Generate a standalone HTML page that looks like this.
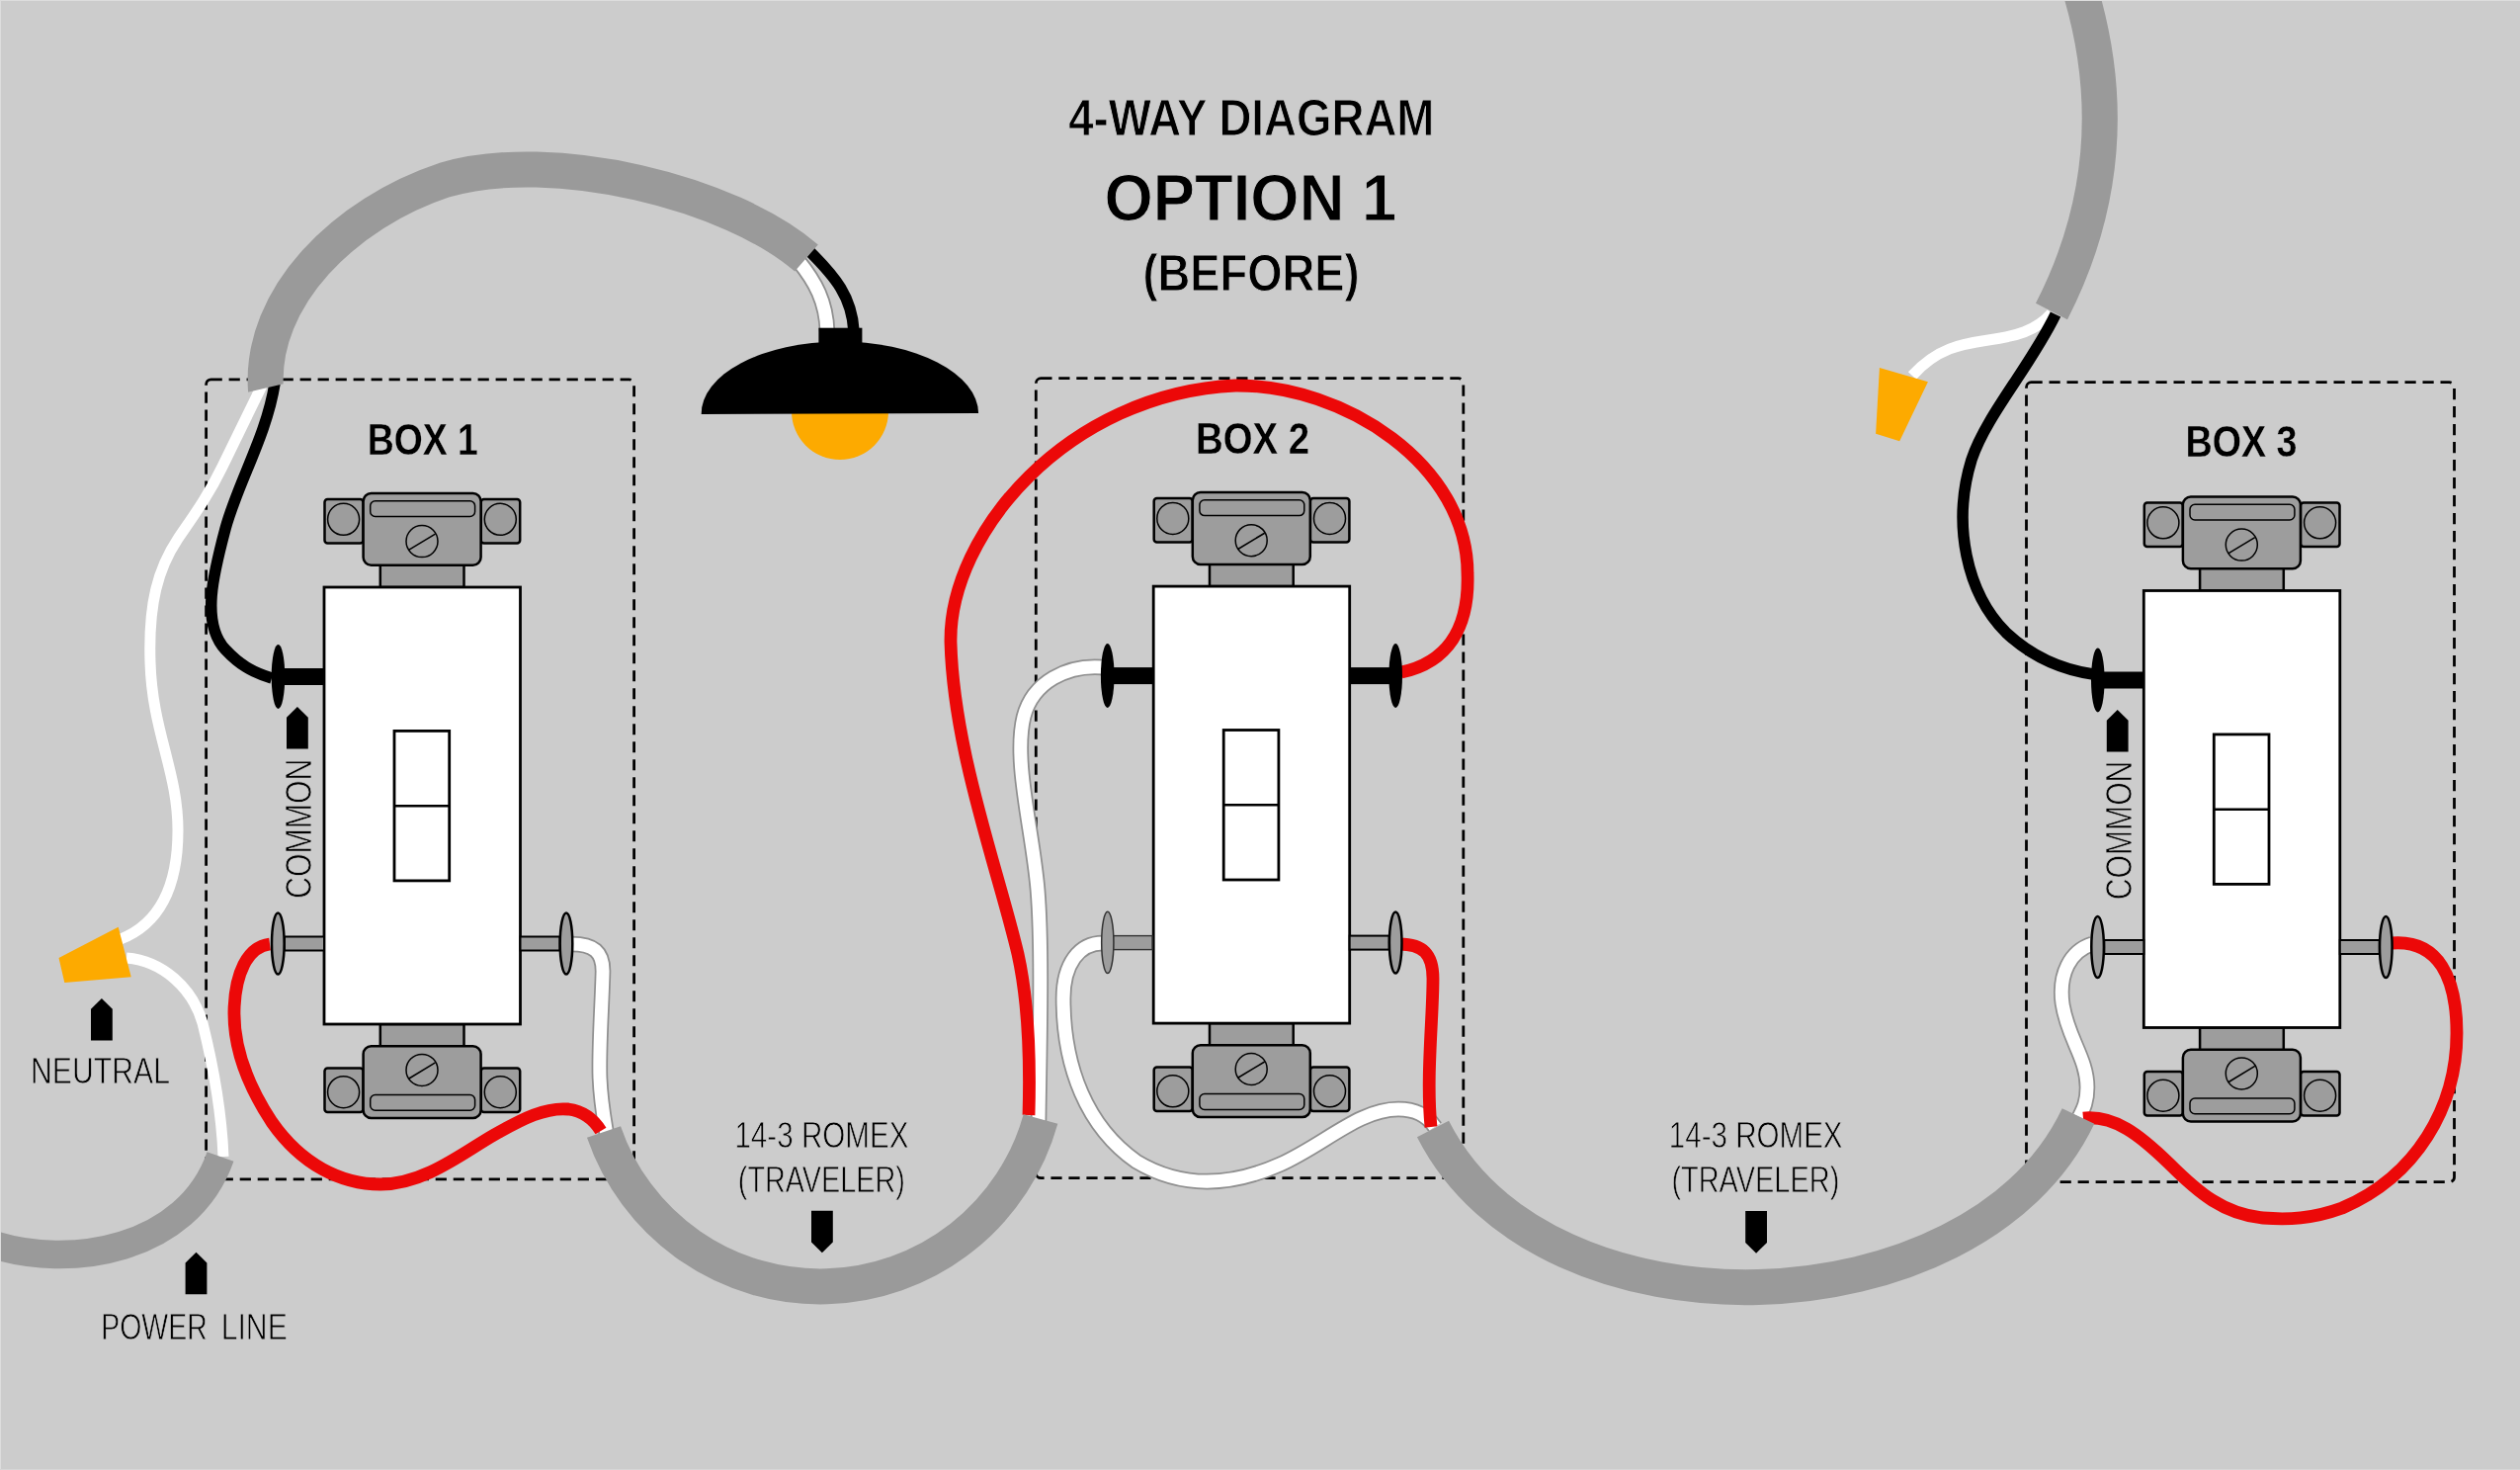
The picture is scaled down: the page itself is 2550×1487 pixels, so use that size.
<!DOCTYPE html>
<html><head><meta charset="utf-8">
<style>
html,body{margin:0;padding:0;background:#cccccc;width:2550px;height:1487px;overflow:hidden}
svg{display:block;will-change:transform}
text{font-family:"Liberation Sans",sans-serif}
</style></head>
<body>
<svg width="2550" height="1487" viewBox="0 0 2550 1487">
<defs>
  <clipPath id="cut1"><polygon points="0,0 1000,0 1000,400 320,380.5 230,401.7 0,401.7"/></clipPath>
  <g id="head">
    <rect x="0.5" y="-89" width="39" height="44.5" rx="3" fill="#9d9d9d" stroke="#000" stroke-width="2.5"/>
    <rect x="158.7" y="-89" width="39.5" height="44.5" rx="3" fill="#9d9d9d" stroke="#000" stroke-width="2.5"/>
    <rect x="56.8" y="-24" width="84.7" height="24" fill="#9d9d9d" stroke="#000" stroke-width="2.5"/>
    <rect x="39.6" y="-95" width="119" height="72.8" rx="8" fill="#9d9d9d" stroke="#000" stroke-width="2.5"/>
    <rect x="46.7" y="-87.3" width="105.9" height="15.8" rx="5" fill="#9d9d9d" stroke="#000" stroke-width="1.5"/>
    <circle cx="99" cy="-46.4" r="16" fill="#9d9d9d" stroke="#000" stroke-width="1.5"/>
        <circle cx="19.6" cy="-68.7" r="16" fill="#9d9d9d" stroke="#000" stroke-width="1.5"/>
    <circle cx="178.3" cy="-68.7" r="16" fill="#9d9d9d" stroke="#000" stroke-width="1.5"/>
  </g>
  <g id="sw">
    <use href="#head"/>
    <use href="#head" transform="translate(0,442) scale(1,-1)"/>
    <line x1="85.5" y1="-37.6" x2="112.5" y2="-53.9" stroke="#000" stroke-width="1.6"/>
    <line x1="85.5" y1="497.2" x2="112.5" y2="480.9" stroke="#000" stroke-width="1.6"/>
    <rect x="0" y="0" width="198.5" height="442" fill="#fff" stroke="#000" stroke-width="2.8"/>
    <rect x="71" y="145.4" width="55.7" height="151.5" fill="#fff" stroke="#000" stroke-width="2.8"/>
    <line x1="71" y1="221.2" x2="126.7" y2="221.2" stroke="#000" stroke-width="2.6"/>
  </g>
  <g id="tbL">
    <rect x="-40" y="353.5" width="40" height="14" fill="#9d9d9d" stroke="#000" stroke-width="2"/>
    <ellipse cx="-46.7" cy="360.5" rx="6.3" ry="31" fill="#9d9d9d" stroke="#000" stroke-width="2.5"/>
  </g>
  <g id="tbR">
    <rect x="198.5" y="353.5" width="40" height="14" fill="#9d9d9d" stroke="#000" stroke-width="2"/>
    <ellipse cx="245" cy="360.5" rx="6.3" ry="31" fill="#9d9d9d" stroke="#000" stroke-width="2.5"/>
  </g>
  <g id="termL">
    <rect x="-42" y="82" width="42" height="17" fill="#000"/>
    <ellipse cx="-46.5" cy="90.4" rx="6.8" ry="32.5" fill="#000"/>
  </g>
  <g id="termR">
    <rect x="198.5" y="82" width="42" height="17" fill="#000"/>
    <ellipse cx="245" cy="90.4" rx="6.8" ry="32.5" fill="#000"/>
  </g>
  <path id="arrowUp" d="M0,0 L10.9,10.8 L10.9,42.6 L-10.9,42.6 L-10.9,10.8 Z" fill="#000"/>
</defs>

<rect x="0" y="0" width="2550" height="1487" fill="#cccccc"/>

<!-- dashed boxes -->
<g fill="none" stroke="#000" stroke-width="2.8" stroke-dasharray="11.2 6.8">
  <rect x="208.6" y="383.8" width="433" height="809" rx="5"/>
  <rect x="1048.3" y="382.7" width="432.5" height="809" rx="5"/>
  <rect x="2050.5" y="386.7" width="433" height="809" rx="5"/>
</g>

<!-- title -->
<g fill="#000" font-weight="bold" stroke="#cccccc" stroke-width="1">
  <text x="1081.2" y="137" font-size="51.6" textLength="370.2" lengthAdjust="spacingAndGlyphs">4-WAY DIAGRAM</text>
  <text x="1117.6" y="223.4" font-size="67" textLength="295.6" lengthAdjust="spacingAndGlyphs">OPTION 1</text>
  <text x="1156.4" y="293.8" font-size="52.3" textLength="219.3" lengthAdjust="spacingAndGlyphs">(BEFORE)</text>
  <text x="371.8" y="460" font-size="43.6" stroke-width="0.3" textLength="112.1" lengthAdjust="spacingAndGlyphs">BOX 1</text>
  <text x="1210" y="459" font-size="43.6" stroke-width="0.3" textLength="115" lengthAdjust="spacingAndGlyphs">BOX 2</text>
  <text x="2211.6" y="462.2" font-size="43.6" stroke-width="0.3" textLength="112.9" lengthAdjust="spacingAndGlyphs">BOX 3</text>
</g>

<!-- labels -->
<g fill="#000" font-size="36" stroke="#cccccc" stroke-width="0.8">
  <text x="743.4" y="1160.8" textLength="176.1" lengthAdjust="spacingAndGlyphs">14-3 ROMEX</text>
  <text x="746.8" y="1206.2" textLength="169" lengthAdjust="spacingAndGlyphs">(TRAVELER)</text>
  <text x="1688.8" y="1160.8" textLength="175.8" lengthAdjust="spacingAndGlyphs">14-3 ROMEX</text>
  <text x="1691.4" y="1206" textLength="169.9" lengthAdjust="spacingAndGlyphs">(TRAVELER)</text>
  <text x="31" y="1095.6" textLength="141" lengthAdjust="spacingAndGlyphs">NEUTRAL</text>
  <text x="102.3" y="1355" textLength="107.4" lengthAdjust="spacingAndGlyphs">POWER</text>
  <text x="223.7" y="1355" textLength="67.1" lengthAdjust="spacingAndGlyphs">LINE</text>
  <text transform="translate(314.6,909) rotate(-90)" textLength="141.5" lengthAdjust="spacingAndGlyphs">COMMON</text>
  <text transform="translate(2156.8,910.2) rotate(-90)" textLength="140.5" lengthAdjust="spacingAndGlyphs">COMMON</text>
</g>

<!-- arrows -->
<use href="#arrowUp" transform="translate(300.9,714.9)"/>
<use href="#arrowUp" transform="translate(2142.7,718)"/>
<use href="#arrowUp" transform="translate(102.9,1009.9)"/>
<use href="#arrowUp" transform="translate(198.5,1266.7)"/>
<use href="#arrowUp" transform="translate(831.9,1267.3) scale(1,-1)"/>
<use href="#arrowUp" transform="translate(1777.1,1267.7) scale(1,-1)"/>


<!-- wires -->
<g fill="none" stroke-linecap="butt" stroke-linejoin="round">
  <!-- outlined white wires: gray under, white over -->
  <g stroke="#8f8f8f" stroke-width="16.5">
    <path id="w_lamp" d="M808,264 C 825,285 836,305 837,335"/>
    <path id="w_b1r" d="M578,955 C 600,955 611,962 610,985 C 609,1020 606,1060 607,1090 C 608,1115 611,1130 614,1148"/>
    <path id="w_b2a" d="M1116,675 C 1080,672 1045,690 1036,725 C 1025,770 1045,840 1050,900 C 1055,960 1052,1060 1051,1135"/>
    <path id="w_b2b" d="M1116,954 C 1092,954 1076,975 1076,1010 C 1076,1080 1100,1140 1150,1175 C 1200,1205 1250,1198 1295,1178 C 1340,1158 1375,1122 1415,1122 C 1432,1122 1444,1128 1452,1140"/>
    <path id="w_b3b" d="M2117,955 C 2095,962 2083,985 2087,1015 C 2092,1050 2112,1070 2112,1100 C 2112,1115 2108,1122 2104,1130"/>
  </g>
  <g stroke="#fff" stroke-width="11">
    <g stroke-width="13"><use href="#w_lamp"/><use href="#w_b1r"/><use href="#w_b2a"/><use href="#w_b2b"/><use href="#w_b3b"/></g>
    <path d="M265,390 L 225,472 C 210,503 195,523 180,545 C 160,575 150,610 152,670 C 154,740 180,780 180,840 C 180,900 160,935 122,950"/>
    <path d="M128,969 C 165,972 195,1000 205,1035 C 215,1075 224,1120 226,1170"/>
    <path d="M2076,317 C 2060,335 2040,340 2012,344 C 1985,348 1960,352 1935,380"/>
  </g>
  <g stroke="#000" stroke-width="11.5">
    <path d="M820,255 C 845,280 862,300 864,335"/>
    <path d="M278,388 C 270,440 240,490 228,535 C 216,580 203,630 228,657 C 242,672 255,680 275,686"/>
    <path d="M2080,318 C 2055,370 2010,420 1995,465 C 1975,530 1990,600 2030,640 C 2060,668 2090,678 2118,682"/>
  </g>
  <g stroke="#ec0808" stroke-width="12.8">
    <path d="M273,955 C 250,958 238,985 237,1022 C 236,1062 252,1100 275,1135 C 305,1178 345,1198 385,1198 C 430,1198 470,1165 500,1148 C 530,1131 552,1120 575,1122 C 590,1124 600,1131 608,1144"/>
    <path d="M1041,1128 C 1043,1060 1040,1010 1030,965 C 1010,880 965,760 962,650 C 960,540 1080,398 1250,390 C 1360,389 1485,470 1485,580 C 1487,635 1465,670 1418,680"/>
    <path d="M1416,955 C 1440,955 1450,965 1450,990 C 1450,1030 1443,1090 1448,1140"/>
    <path d="M2420,954 C 2468,950 2486,990 2486,1045 C 2486,1120 2445,1190 2370,1222 C 2340,1233 2315,1234 2290,1232 C 2250,1228 2225,1207 2195,1177 C 2165,1148 2140,1128 2108,1131"/>
  </g>
</g>
<!-- romex -->
<g fill="none" stroke="#9a9a9a" stroke-linecap="butt">
  <path stroke-width="36" clip-path="url(#cut1)" d="M270.2,412 L 269,395 C 262,300 350,215 450,182 C 560,150 740,195 816,261"/>
  <path stroke-width="36" d="M611,1145 A231.5,231.5 0 0 0 1053,1132"/>
  <path stroke-width="36" d="M1450,1142 C 1563,1365 1998,1350 2103,1129"/>
  <path stroke-width="36" d="M2105,-10 C 2135,90 2135,200 2076,315"/>
  <path stroke-width="28.5" d="M-10,1258 C 70,1285 190,1265 223,1170"/>
</g>
<!-- wire nuts -->
<polygon points="59.5,969.1 119.7,937.8 132.7,988.2 65.3,994" fill="#fdaa00"/>
<polygon points="1901.9,371.9 1950.9,386.2 1922.2,446.3 1898.1,438.7" fill="#fdaa00"/>

<!-- lamp -->
<g>
  <circle cx="850" cy="416" r="49" fill="#fdaa00"/>
  <path d="M709.7,419 A140.2,73 0 0 1 990.1,418 Z" fill="#000"/>
  <rect x="828.4" y="331.7" width="44" height="20" fill="#000"/>
</g>

<!-- switches -->
<use href="#sw" transform="translate(328,594)"/>
<use href="#sw" transform="translate(1167.2,593.1)"/>
<use href="#sw" transform="translate(2169.3,597.5)"/>
<use href="#termL" transform="translate(328,594)"/>
<use href="#termL" transform="translate(1167.2,593.1)"/>
<use href="#termR" transform="translate(1167.2,593.1)"/>
<use href="#termL" transform="translate(2169.3,597.5)"/>
<!-- box2 bottom-left terminal with thin outline -->
<use href="#tbL" transform="translate(328,594)"/>
<use href="#tbR" transform="translate(328,594)"/>
<use href="#tbR" transform="translate(1167.2,593.1)"/>
<use href="#tbL" transform="translate(2169.3,597.5)"/>
<use href="#tbR" transform="translate(2169.3,597.5)"/>
<rect x="1126.5" y="946.6" width="39.5" height="14" fill="#9d9d9d" stroke="#333" stroke-width="1.4"/>
<ellipse cx="1120.8" cy="953.4" rx="6.1" ry="31.2" fill="#9d9d9d" stroke="#333" stroke-width="1.5"/>
<!-- edge lines -->
<rect x="0" y="0" width="2550" height="1" fill="#dddddd"/>
<rect x="0" y="0" width="1" height="1487" fill="#dddddd"/>
<rect x="0" y="1486" width="2550" height="1" fill="#d6d6d6"/>

<!-- WIRES placeholder -->

</svg>
</body></html>
